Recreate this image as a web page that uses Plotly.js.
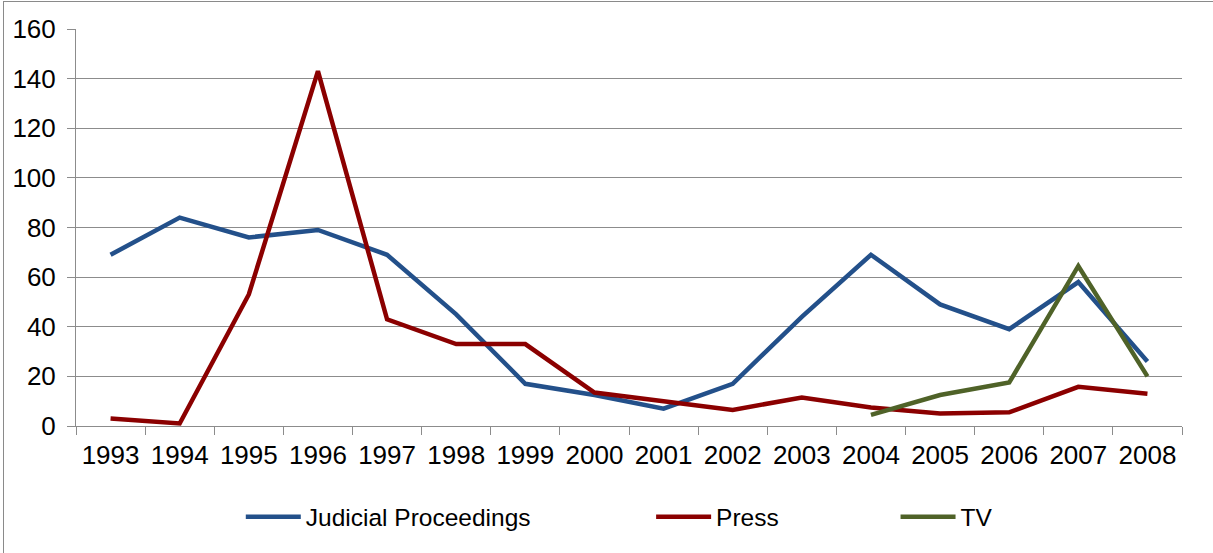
<!DOCTYPE html>
<html>
<head>
<meta charset="utf-8">
<script src="https://cdn.plot.ly/plotly-3.0.1.min.js"></script>
<style>
  html, body { margin: 0; padding: 0; background: #ffffff; overflow: hidden; }
  #frame { position: absolute; left: 3px; top: 1px; width: 1230px; height: 570px; border: 1px solid #8a8a8a; box-sizing: border-box; }
  #chart { position: absolute; left: 0; top: 0; width: 1213px; height: 553px; }
</style>
</head>
<body>
<div id="frame"></div>
<div id="chart"></div>
<script>
const years = ["1993","1994","1995","1996","1997","1998","1999","2000","2001","2002","2003","2004","2005","2006","2007","2008"];
const judicial = [69, 84, 76, 79, 69, 45, 17, 12.5, 7, 17, 44, 69, 49, 39, 58, 26];
const press = [3, 1, 53, 143, 43, 33, 33, 13.5, 10, 6.5, 11.5, 7.5, 5, 5.5, 15.8, 13];
const tvYears = ["2004","2005","2006","2007","2008"];
const tv = [4.5, 12.5, 17.5, 64.5, 20];

const legendFont = {family: "Liberation Sans, Arial, sans-serif", size: 24.5, color: "#000"};
const traces = [
  {x: years, y: judicial, name: "Judicial Proceedings", type: "scatter", mode: "lines",
   line: {color: "#23508a", width: 4.5}, legend: "legend"},
  {x: years, y: press, name: "Press", type: "scatter", mode: "lines",
   line: {color: "#8b0000", width: 4.5}, legend: "legend2"},
  {x: tvYears, y: tv, name: "TV", type: "scatter", mode: "lines",
   line: {color: "#4f6228", width: 4.5}, legend: "legend3"}
];

function leg(x) {
  return {x: x, xanchor: "left", y: -0.229, yanchor: "middle", orientation: "h",
          font: legendFont, itemwidth: 55, bgcolor: "rgba(0,0,0,0)", borderwidth: 0,
          itemclick: false, itemdoubleclick: false};
}

const layout = {
  width: 1213, height: 553,
  margin: {l: 76, r: 31, t: 29, b: 127, pad: 0},
  paper_bgcolor: "rgba(0,0,0,0)", plot_bgcolor: "#ffffff",
  font: {family: "Liberation Sans, Arial, sans-serif", size: 26, color: "#000"},
  showlegend: true,
  legend: leg(0.149),
  legend2: leg(0.520),
  legend3: leg(0.741),
  hovermode: false,
  xaxis: {
    type: "category", categoryorder: "array", categoryarray: years,
    range: [-0.5, 15.5], tickson: "boundaries", ticks: "outside", ticklen: 8,
    tickcolor: "#8c8c8c", tickwidth: 1, showgrid: false, zeroline: false,
    showline: true, linecolor: "#8c8c8c", linewidth: 1, fixedrange: true,
    tickfont: {size: 26, color: "#000"}, ticklabelstandoff: 6
  },
  yaxis: {
    range: [0, 160], dtick: 20, tick0: 0, ticks: "outside", ticklen: 8,
    tickcolor: "#8c8c8c", tickwidth: 1, showgrid: true, gridcolor: "#8c8c8c", gridwidth: 1,
    zeroline: false, showline: true, linecolor: "#8c8c8c", linewidth: 1, fixedrange: true,
    tickfont: {size: 26, color: "#000"}, ticklabelstandoff: 6
  }
};

Plotly.newPlot("chart", traces, layout, {displayModeBar: false, staticPlot: true});
</script>
</body>
</html>
